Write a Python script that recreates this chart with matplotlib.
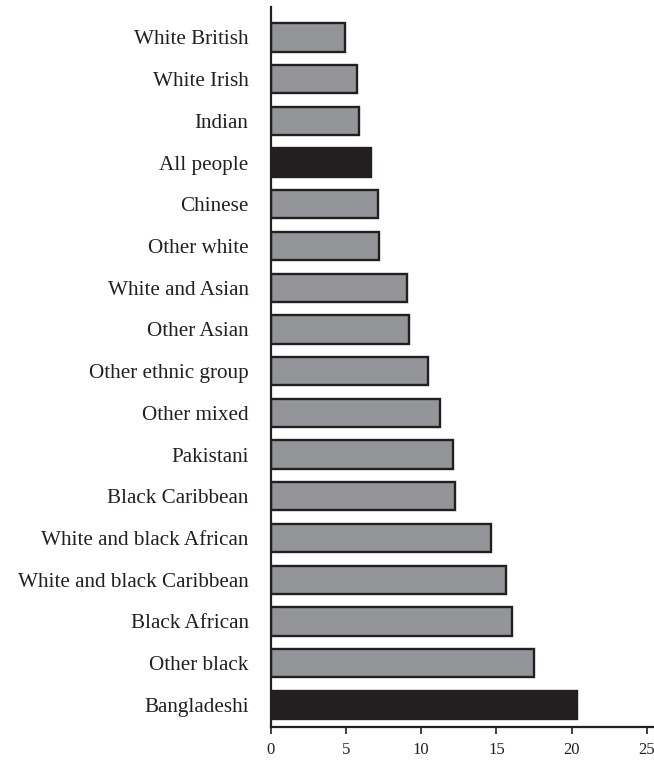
import matplotlib
matplotlib.use("Agg")
import matplotlib.pyplot as plt

categories = ["White British", "White Irish", "Indian", "All people", "Chinese",
              "Other white", "White and Asian", "Other Asian", "Other ethnic group",
              "Other mixed", "Pakistani", "Black Caribbean", "White and black African",
              "White and black Caribbean", "Black African", "Other black", "Bangladeshi"]
values = [4.94, 5.71, 5.87, 6.66, 7.15, 7.22, 9.08, 9.17, 10.45, 11.25, 12.09,
          12.22, 14.66, 15.61, 16.03, 17.51, 20.37]
highlight = ["All people", "Bangladeshi"]
xticks = [0, 5, 10, 15, 20, 25]

GRAY = "#939598"
DARK = "#231f20"

plt.rcParams['font.family'] = ['Liberation Serif', 'DejaVu Serif']

fig = plt.figure(figsize=(6.54, 7.6), dpi=100)
ax = fig.add_axes([0.414, 0.0434, 0.586, 0.948])

colors = [DARK if c in highlight else GRAY for c in categories]
ypos = list(range(len(categories)))
ax.barh(ypos, values, height=0.68, color=colors, edgecolor=DARK, linewidth=1.7)

ax.set_ylim(len(categories) - 1 + 0.53, -0.74)
ax.set_xlim(0, 25.47)
ax.set_yticks(ypos)
ax.set_yticklabels(categories, fontsize=15.2, color=DARK)
ax.tick_params(axis='y', length=0, pad=16)
ax.set_xticks(xticks)
ax.set_xticklabels([str(t) for t in xticks], fontsize=12, color=DARK)
ax.tick_params(axis='x', length=5, width=1.2, color=DARK, pad=6, direction='out')

for s in ['top', 'right']:
    ax.spines[s].set_visible(False)
for s in ['left', 'bottom']:
    ax.spines[s].set_linewidth(1.6)
    ax.spines[s].set_color(DARK)

fig.savefig("out.png", dpi=100)
